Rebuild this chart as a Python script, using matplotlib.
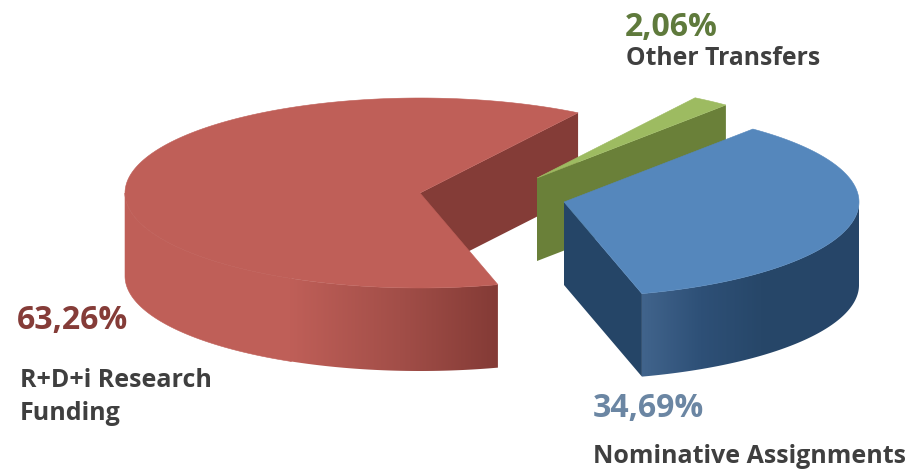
import numpy as np
import matplotlib
matplotlib.use("Agg")
import matplotlib.pyplot as plt
from matplotlib.colors import to_rgb
from matplotlib.patches import Polygon

categories = ["R+D+i Research\nFunding", "Nominative Assignments", "Other Transfers"]
values = [63.26, 34.69, 2.06]
value_labels = ["63,26%", "34,69%", "2,06%"]

RX, RY, DEPTH = 295, 95, 83
FIRST_ANGLE = 57.6
CENTERS = [(420, 193), (564, 202), (537, 178)]
TOPS = ["#BF5F58", "#5587BC", "#9DBB61"]
LABEL_COLS = ["#853C38", "#6B86A3", "#5F7A3C"]
TEXT_COL = "#3F3F3F"

fig = plt.figure(figsize=(9.10, 4.72), dpi=100)
ax = fig.add_axes([0, 0, 1, 1])
ax.axis("off")


def pt(c, deg):
    t = np.radians(deg)
    return c[0] + RX * np.cos(t), c[1] - RY * np.sin(t)


def wall_outline(c, a0, a1):
    angs = np.linspace(a0, a1, 200)
    upper = [pt(c, a) for a in angs]
    lower = [(x, y + DEPTH) for x, y in reversed(upper)]
    return upper, lower


def outer_wall(c, a0, a1, stops, z=2):
    upper, lower = wall_outline(c, a0, a1)
    xs = np.linspace(min(p[0] for p in upper), max(p[0] for p in upper), 512)
    sx = [s[0] for s in stops]
    cs = np.array([to_rgb(s[1]) for s in stops])
    img = np.stack([np.interp(xs, sx, cs[:, i]) for i in range(3)], axis=-1)[None, :, :]
    ys = [p[1] for p in upper + lower]
    im = ax.imshow(img, extent=(xs[0], xs[-1], max(ys), min(ys)), aspect="auto",
                   interpolation="bilinear", zorder=z)
    patch = Polygon(upper + lower, closed=True, transform=ax.transData, fc="none", ec="none")
    ax.add_patch(patch)
    im.set_clip_path(patch)


def solid_wall(c, a0, a1, col, z=2):
    upper, lower = wall_outline(c, a0, a1)
    ax.add_patch(Polygon(upper + lower, closed=True, fc=col, ec=col, lw=0.4, zorder=z))


def inner_wall(c, deg, col, z=1):
    p = pt(c, deg)
    ax.fill([c[0], p[0], p[0], c[0]],
            [c[1], p[1], p[1] + DEPTH, c[1] + DEPTH],
            color=col, lw=0, zorder=z)


def top(c, a0, a1, col, z=3):
    angs = np.linspace(a0, a1, 200)
    xy = [c] + [pt(c, a) for a in angs]
    ax.fill(*zip(*xy), color=col, lw=0.4, zorder=z)


# slice angles derived from the values
total = sum(values)
spans = [v / total * 360 for v in values]
a_red = (FIRST_ANGLE, FIRST_ANGLE + spans[0])
a_blue = (a_red[1], a_red[1] + spans[1])
a_green = (a_blue[1], a_blue[1] + spans[2])

# red slice: the shaded wall starts where the light part of the wall ends
inner_wall(CENTERS[0], a_red[0], "#843C37", z=1)
shade_x = 290
shade_angle = 360 - np.degrees(np.arccos((shade_x - CENTERS[0][0]) / RX))
solid_wall(CENTERS[0], 180, shade_angle + 0.3, TOPS[0], z=2)
outer_wall(CENTERS[0], shade_angle, a_red[1],
           [(shade_x, TOPS[0]), (400, "#A24E48"), (497, "#843B36")], z=2)
top(CENTERS[0], *a_red, TOPS[0], z=3)

# green slice
inner_wall(CENTERS[2], a_green[0], "#6A8039", z=4)
top(CENTERS[2], *a_green, TOPS[2], z=5)

# blue slice
inner_wall(CENTERS[1], a_blue[0], "#254567", z=6)
outer_wall(CENTERS[1], a_blue[0], 360,
           [(642, "#41648C"), (700, "#2E5077"), (760, "#274769"), (858, "#264568")], z=7)
top(CENTERS[1], *a_blue, TOPS[1], z=8)

ax.set_xlim(0, 910)
ax.set_ylim(472, 0)

# labels
FONT = "Open Sans"
big = dict(fontsize=23, fontweight="bold", family=FONT, va="baseline", ha="left")
small = dict(fontsize=18, fontweight="bold", family=FONT, va="baseline", ha="left", color=TEXT_COL)

ax.text(17, 329, value_labels[0], color=LABEL_COLS[0], **big)
ax.text(593, 417, value_labels[1], color=LABEL_COLS[1], **big)
ax.text(625, 36, value_labels[2], color=LABEL_COLS[2], **big)

l0, l1 = categories[0].split("\n")
ax.text(20, 387, l0, **small)
ax.text(20, 420, l1, **small)
ax.text(593, 463, categories[1], **small)
small["fontsize"] = 17.8
ax.text(626, 65, categories[2], **small)

fig.savefig("out.png", dpi=100, facecolor="white")
